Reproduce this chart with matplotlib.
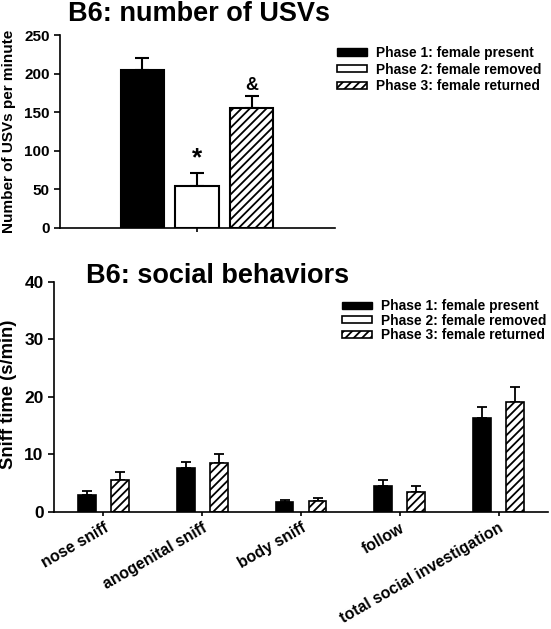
import matplotlib.pyplot as plt
import numpy as np
from matplotlib.patches import Patch

plt.rcParams['font.family'] = ['Liberation Sans', 'DejaVu Sans']
plt.rcParams['font.weight'] = 'bold'
plt.rcParams['hatch.linewidth'] = 1.3

# dane - USV
fazy = ['Phase 1: female present', 'Phase 2: female removed', 'Phase 3: female returned']
usv_mean = [205, 54, 155]
usv_err = [15, 17, 16]
usv_marks = ['', '*', '&']

# dane - zachowania socjalne (faza 2 bez danych)
kategorie = ['nose sniff', 'anogenital sniff', 'body sniff', 'follow', 'total social investigation']
faza1_mean = [3.0, 7.6, 1.7, 4.5, 16.4]
faza1_err = [0.6, 1.15, 0.4, 1.0, 1.9]
faza3_mean = [5.5, 8.6, 2.0, 3.5, 19.2]
faza3_err = [1.4, 1.4, 0.4, 1.1, 2.5]

fig = plt.figure(figsize=(5.51, 6.29), dpi=100)

# ---- wykres gorny ----
ax1 = fig.add_axes([0.109, 0.638, 0.499, 0.306])
x = np.arange(len(usv_mean))
kolory = ['black', 'white', 'white']
hatche = [None, None, '////']
for i in range(len(usv_mean)):
    ax1.bar(x[i], usv_mean[i], width=0.8, color=kolory[i], edgecolor='black',
            linewidth=1.5, hatch=hatche[i], zorder=2)
    ax1.errorbar(x[i], usv_mean[i], yerr=[[0], [usv_err[i]]], color='black',
                 capsize=5, elinewidth=1.5, capthick=1.5, zorder=1)
    if usv_marks[i]:
        ax1.text(x[i], usv_mean[i] + usv_err[i] + 3, usv_marks[i], ha='center',
                 va='bottom', fontsize=19 if usv_marks[i] == '*' else 13, fontweight='bold')
ax1.set_xlim(-1.51, 3.53)
ax1.set_ylim(0, 250)
ax1.set_yticks(np.arange(0, 251, 50))
ax1.set_xticks([1])
ax1.set_xticklabels([''])
for s in ['left', 'bottom']:
    ax1.spines[s].set_linewidth(1.2)
ax1.spines['top'].set_visible(False)
ax1.spines['right'].set_visible(False)
ax1.tick_params(axis='y', labelsize=11, direction='out', length=4, width=1.2)
ax1.tick_params(axis='x', direction='out', length=3, width=1.2)
fig.text(0.0155, 0.791, 'Number of USVs per minute', fontsize=11, fontweight='bold',
         rotation=90, ha='center', va='center')
fig.text(0.1234, 0.9666, 'B6: number of USVs', fontsize=19.5, fontweight='bold', va='baseline')

uchwyty = [Patch(facecolor='black', edgecolor='black'),
           Patch(facecolor='white', edgecolor='black', linewidth=1.2),
           Patch(facecolor='white', edgecolor='black', hatch='////', linewidth=1.2)]
fig.legend(uchwyty, fazy, loc='upper left', bbox_to_anchor=(0.6116, 0.927), frameon=False,
           borderpad=0, borderaxespad=0, handlelength=2.2, handleheight=0.43,
           labelspacing=0.2, handletextpad=0.65, prop={'weight': 'bold', 'size': 9.9})

# ---- wykres dolny ----
ax2 = fig.add_axes([0.098, 0.186, 0.8966, 0.3657])
xg = np.arange(len(kategorie))
szer = 0.18
ax2.bar(xg - 0.167, faza1_mean, width=szer, color='black', edgecolor='black', linewidth=1.2, zorder=2)
ax2.errorbar(xg - 0.167, faza1_mean, yerr=[np.zeros(len(faza1_err)), faza1_err], fmt='none',
             ecolor='black', capsize=3.3, elinewidth=1.3, capthick=1.3, zorder=1)
ax2.bar(xg + 0.167, faza3_mean, width=szer, color='white', edgecolor='black', linewidth=1.2,
        hatch='////', zorder=2)
ax2.errorbar(xg + 0.167, faza3_mean, yerr=[np.zeros(len(faza3_err)), faza3_err], fmt='none',
             ecolor='black', capsize=3.3, elinewidth=1.3, capthick=1.3, zorder=1)
ax2.set_xlim(-0.5, 4.5)
ax2.set_ylim(0, 40)
ax2.set_yticks(np.arange(0, 41, 10))
ax2.set_xticks(xg)
ax2.set_xticklabels(kategorie, rotation=30, ha='right', rotation_mode='anchor', fontsize=11.4)
ax2.tick_params(axis='x', direction='out', length=3, width=1.2, pad=3)
ax2.tick_params(axis='y', labelsize=12.5, direction='out', length=4, width=1.2)
for s in ['left', 'bottom']:
    ax2.spines[s].set_linewidth(1.2)
ax2.spines['top'].set_visible(False)
ax2.spines['right'].set_visible(False)
fig.text(0.0155, 0.3736, 'Sniff time (s/min)', fontsize=13.2, fontweight='bold',
         rotation=90, ha='center', va='center')
fig.text(0.156, 0.550, 'B6: social behaviors', fontsize=19.5, fontweight='bold', va='baseline')
fig.legend(uchwyty, fazy, loc='upper left', bbox_to_anchor=(0.6207, 0.5246), frameon=False,
           borderpad=0, borderaxespad=0, handlelength=2.2, handleheight=0.43,
           labelspacing=0.05, handletextpad=0.65, prop={'weight': 'bold', 'size': 9.9})

fig.savefig('out.png', dpi=100)
